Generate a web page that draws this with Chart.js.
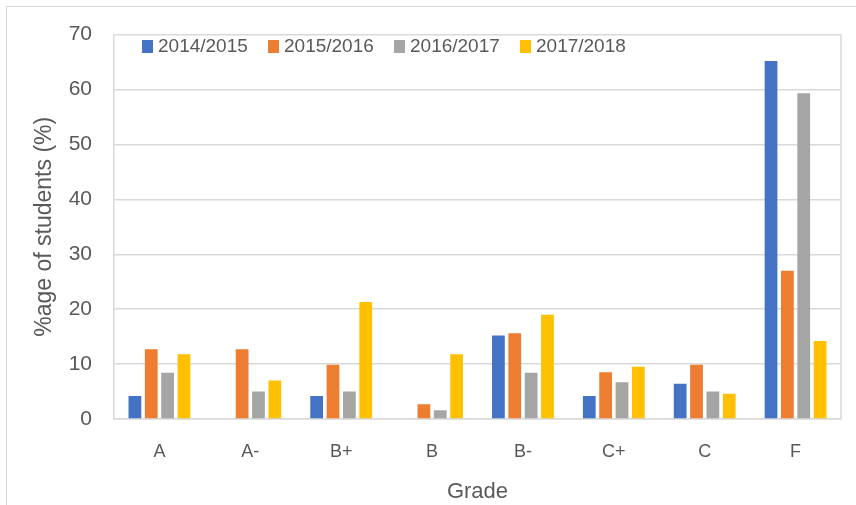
<!DOCTYPE html>
<html>
<head>
<meta charset="utf-8">
<script src="https://cdn.jsdelivr.net/npm/chart.js@4.4.0/dist/chart.umd.min.js"></script>
<style>
  html, body { margin: 0; padding: 0; background: #fff; }
  #wrap { position: relative; width: 856px; height: 505px; overflow: hidden; }
  #frame { position: absolute; left: 6px; top: 6px; width: 900px; height: 600px; border: 1px solid #d9d9d9; box-sizing: border-box; }
  #c { position: absolute; left: 0; top: 0; }
  #legend { position: absolute; left: 142px; top: 35px; display: flex; font-family: "Liberation Sans", Arial, sans-serif; font-size: 19px; color: #595959; }
  .item { width: 126px; display: flex; align-items: center; white-space: nowrap; }
  .box { width: 11px; height: 13px; margin-right: 5px; flex: none; }
</style>
</head>
<body>
<div id="wrap">
  <div id="frame"></div>
  <canvas id="c" width="856" height="505"></canvas>
  <div id="legend"></div>
</div>
<script>
const categories = ["A", "A-", "B+", "B", "B-", "C+", "C", "F"];
const seriesNames = ["2014/2015", "2015/2016", "2016/2017", "2017/2018"];
const s2014 = [4.2, 0, 4.2, 0, 15.2, 4.2, 6.4, 65.2];
const s2015 = [12.7, 12.7, 9.9, 2.7, 15.6, 8.5, 9.9, 27.0];
const s2016 = [8.4, 5.0, 5.0, 1.6, 8.4, 6.7, 5.0, 59.3];
const s2017 = [11.8, 7.0, 21.3, 11.8, 19.0, 9.5, 4.6, 14.2];
const colors = ["#4472C4", "#ED7D31", "#A5A5A5", "#FFC000"];
const yMin = 0, yMax = 70, yStep = 10;

const seriesValues = [s2014, s2015, s2016, s2017];
const FONT = '"Liberation Sans", Arial, sans-serif';
const TXT = '#595959';
const GRID = '#d9d9d9';

const areaBorder = {
  id: 'areaBorder',
  afterDraw(chart) {
    const {ctx, chartArea: a} = chart;
    ctx.save();
    ctx.strokeStyle = GRID;
    ctx.lineWidth = 1.5;
    ctx.beginPath();
    ctx.moveTo(a.right, a.top);
    ctx.lineTo(a.right, a.bottom);
    ctx.stroke();
    ctx.restore();
  }
};

new Chart(document.getElementById('c'), {
  type: 'bar',
  data: {
    labels: categories,
    datasets: seriesNames.map((n, i) => ({
      label: n,
      data: seriesValues[i],
      backgroundColor: colors[i],
      borderWidth: 0,
      categoryPercentage: 0.72,
      barPercentage: 0.78
    }))
  },
  options: {
    responsive: false,
    animation: false,
    devicePixelRatio: 1,
    layout: { padding: { left: 8, top: 32, right: 15, bottom: 0 } },
    plugins: { legend: { display: false }, tooltip: { enabled: false } },
    scales: {
      x: {
        grid: { display: false, drawTicks: false },
        border: { display: true, color: GRID, width: 1.5 },
        ticks: { color: TXT, font: { family: FONT, size: 18 }, padding: 22, maxRotation: 0 },
        title: { display: true, text: 'Grade', color: TXT, font: { family: FONT, size: 22 }, padding: { top: 3, bottom: 0 } },
        afterFit(s) { s.height = 86; }
      },
      y: {
        min: yMin, max: yMax,
        grid: { color: GRID, lineWidth: 1.5, drawTicks: false },
        border: { display: true, color: GRID, width: 1.5 },
        ticks: { stepSize: yStep, color: TXT, font: { family: FONT, size: 21 }, padding: 22 },
        title: { display: true, text: '%age of students (%)', color: TXT, font: { family: FONT, size: 23 }, padding: { top: 23, bottom: 0 } },
        afterFit(s) { s.width = 106; }
      }
    }
  },
  plugins: [areaBorder]
});

const lg = document.getElementById('legend');
seriesNames.forEach((n, i) => {
  const it = document.createElement('div');
  it.className = 'item';
  const b = document.createElement('span');
  b.className = 'box';
  b.style.background = colors[i];
  const t = document.createElement('span');
  t.textContent = n;
  it.appendChild(b); it.appendChild(t);
  lg.appendChild(it);
});
</script>
</body>
</html>
